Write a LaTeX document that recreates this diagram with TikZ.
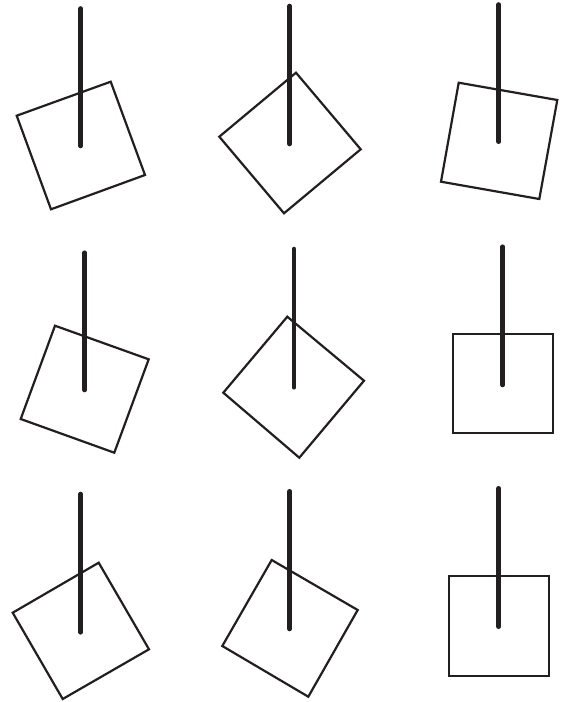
\documentclass[tikz,border=0pt]{standalone}
\definecolor{ink}{HTML}{231F20}
\begin{document}
\begin{tikzpicture}[x=1pt,y=-1pt,
  sq/.style={draw=ink,line width=2.2pt,line join=miter},
  rod/.style={draw=ink,line width=4.6pt,line cap=round}]
\useasboundingbox (0,0) rectangle (569,702);
% row 1
\draw[sq] (110.7,81.7) -- (145,175) -- (51,209.3) -- (16.7,115.7) -- cycle;
\draw[rod] (80.7,8.5) -- (80.7,146);
\draw[sq] (296,72.7) -- (360.7,149.3) -- (284,213.3) -- (219.3,136.7) -- cycle;
\draw[rod] (289.7,6) -- (289.7,144);
\draw[sq] (458.7,82.7) -- (557.3,100) -- (539.3,199) -- (441,181.7) -- cycle;
\draw[rod] (498.7,4.5) -- (498.7,141.7);
% row 2
\draw[sq] (55,325.7) -- (148.7,359.3) -- (114.3,452.7) -- (20.7,419) -- cycle;
\draw[rod] (84.7,252.7) -- (84.7,390);
\draw[sq] (287.3,316.7) -- (364,380.7) -- (299.3,457.7) -- (223.3,392.7) -- cycle;
\draw[rod] (294,249) -- (294,387.3);
\draw[sq] (452.7,334.3) rectangle (552.7,433.3);
\draw[rod] (502.7,246.7) -- (502.7,385);
% row 3
\draw[sq] (98.7,562.7) -- (149,649.3) -- (62.7,699) -- (12.7,612.7) -- cycle;
\draw[rod] (80.7,494) -- (80.7,632.3);
\draw[sq] (271.7,560) -- (357.7,610) -- (308.3,696.7) -- (222.3,646) -- cycle;
\draw[rod] (289.7,491.3) -- (289.7,629);
\draw[sq] (449,576.3) rectangle (548.7,675.7);
\draw[rod] (498.7,488.3) -- (498.7,626.7);
\end{tikzpicture}
\end{document}
